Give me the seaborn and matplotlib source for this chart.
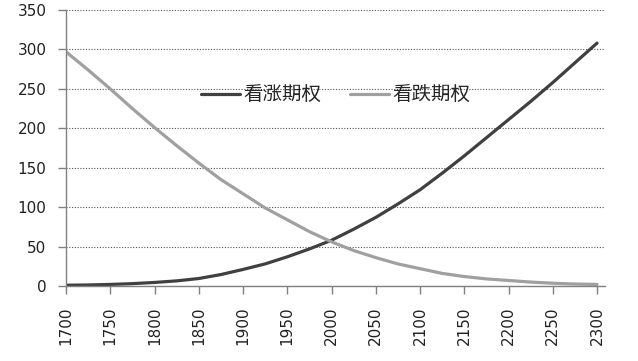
import numpy as np
import pandas as pd
import seaborn as sns
import matplotlib.pyplot as plt

# underlying price
price = [1700, 1725, 1750, 1775, 1800, 1825, 1850, 1875, 1900, 1925, 1950, 1975,
         2000, 2025, 2050, 2075, 2100, 2125, 2150, 2175, 2200, 2225, 2250, 2275, 2300]
# option values
call = [1, 1.3, 2, 3, 4.5, 6.5, 9.5, 14.5, 21, 28, 37, 47,
        58, 72, 87, 104, 122, 143, 165, 188, 211, 234, 258, 283, 308]
put = [297, 274, 250, 225, 201, 178, 156, 135, 117, 99, 84, 69,
       56, 45, 36, 28, 22, 16, 12, 9, 7, 5, 3.5, 2.5, 2]
names = ['看涨期权', '看跌期权']

df = pd.DataFrame({
    'price': price * 2,
    'value': call + put,
    'type': [names[0]] * len(price) + [names[1]] * len(price),
})

sns.set_style('white')
plt.rcParams['font.family'] = ['DejaVu Sans', 'Noto Sans CJK SC']

fig = plt.figure(figsize=(6.38, 3.61), dpi=100)
ax = fig.add_axes([66 / 638, 1 - 286 / 361, 539 / 638, 276 / 361])

sns.lineplot(data=df, x='price', y='value', hue='type',
             palette=['#404040', '#a0a0a0'], linewidth=2.3, ax=ax)

ax.set_xlim(1700, 2309)
ax.set_ylim(0, 350)
ax.set_xticks(range(1700, 2301, 50))
ax.set_yticks(range(0, 351, 50))
ax.set_xlabel('')
ax.set_ylabel('')

ax.yaxis.grid(True, color='#555555', linestyle=(0, (1, 1.5)), linewidth=0.8)
ax.set_axisbelow(True)
for s in ['top', 'right']:
    ax.spines[s].set_visible(False)
for s in ['left', 'bottom']:
    ax.spines[s].set_color('#808080')
    ax.spines[s].set_linewidth(1)

ax.tick_params(axis='x', bottom=True, length=6, width=1, color='#808080',
               pad=9, labelsize=11, labelcolor='#222222', labelrotation=90)
ax.tick_params(axis='y', left=True, length=6, width=1, color='#808080',
               pad=8, labelsize=11, labelcolor='#222222')

leg = ax.legend(loc='center', bbox_to_anchor=(0.5, 0.69), ncol=2, frameon=False,
                fontsize=14, handlelength=2.0, handletextpad=0.15,
                columnspacing=1.5, borderpad=0)
for t in leg.get_texts():
    t.set_family(['Noto Sans CJK SC', 'DejaVu Sans'])

fig.savefig('out.png', dpi=100)
